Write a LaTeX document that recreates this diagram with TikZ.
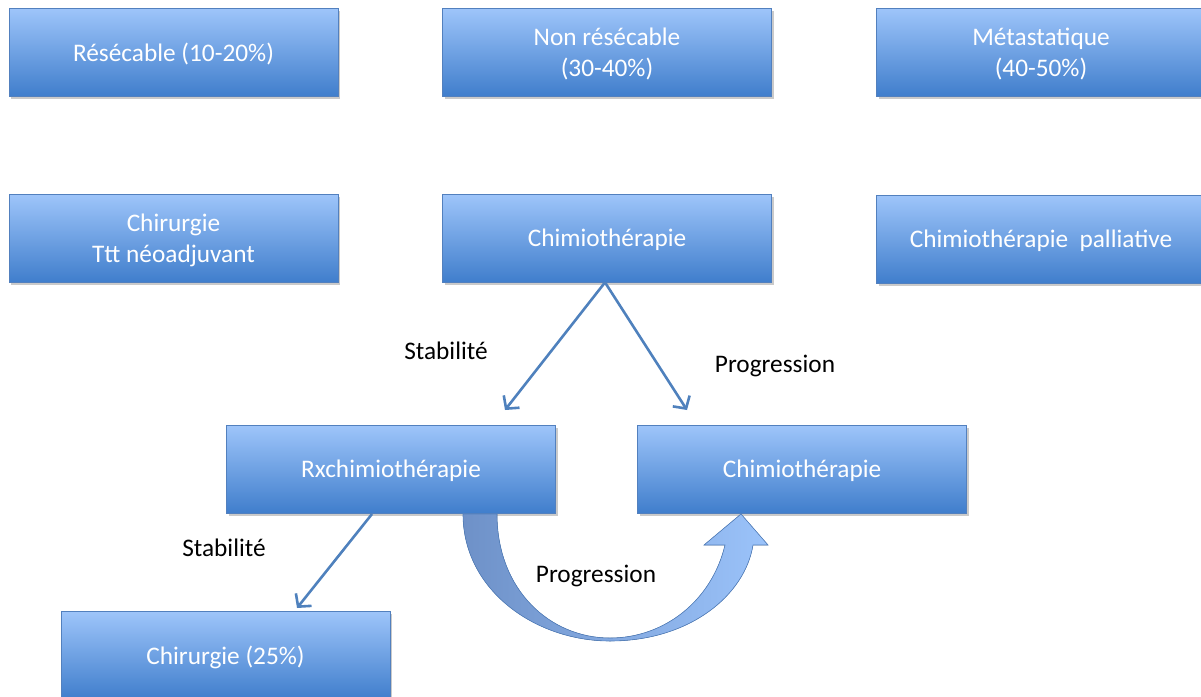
\documentclass[tikz,border=0pt]{standalone}
\usepackage{fontspec}
\setmainfont{Carlito}
\usetikzlibrary{arrows.meta,shadows}
\definecolor{boxtop}{RGB}{158,197,250}
\definecolor{boxbot}{RGB}{64,126,204}
\definecolor{boxedge}{RGB}{82,128,190}
\definecolor{arrowc}{RGB}{79,129,189}
\tikzset{
  box/.style={rectangle, draw=boxedge, line width=0.8pt, top color=boxtop, bottom color=boxbot,
    minimum width=329pt, minimum height=88pt, text=white, align=center,
    font=\fontsize{25.3}{31}\selectfont, text depth=0pt,
    drop shadow={shadow xshift=2pt, shadow yshift=-3pt, opacity=0.35, fill=black!60}},
  lbl/.style={text=black, font=\fontsize{25.3}{31}\selectfont},
  conn/.style={draw=arrowc, line width=2.6pt, -{Straight Barb[length=9pt,width=20pt]}},
}
\begin{document}
\begin{tikzpicture}[x=1pt,y=-1pt]
\useasboundingbox (0,0) rectangle (1201,696);
\clip (0,0) rectangle (1201,696);
\node[box] (res) at (173.5,52) {Résécable (10-20\%)};
\node[box] (nonres) at (607,52) {Non résécable\\(30-40\%)};
\node[box] (meta) at (1041,52) {Métastatique\\(40-50\%)};
\node[box] (chir) at (173.5,238) {Chirurgie\\Ttt néoadjuvant};
\node[box] (chimio) at (607,238) {Chimiothérapie};
\node[box] (pall) at (1041,239) {Chimiothérapie\ \ palliative};
\node[box] (rx) at (391,469) {Rxchimiothérapie};
\node[box] (chimio2) at (802,469) {Chimiothérapie};
\node[box] (chir25) at (225.5,655) {Chirurgie (25\%)};
% curved arrow
\fill[left color={rgb,255:red,110;green,145;blue,200}, middle color={rgb,255:red,58;green,108;blue,180}, right color={rgb,255:red,155;green,195;blue,250}, shading angle=90,
  draw=boxedge, line width=0.6pt]
  (463,514) .. controls (463,590) and (535,641) .. (610,641)
  .. controls (690,641) and (745,595) .. (753,545)
  -- (768,545) -- (741,514) -- (704,545) -- (725,545)
  .. controls (712,600) and (665,638) .. (610,638)
  .. controls (550,638) and (497,590) .. (497,514) -- cycle;
\coordinate (a1) at (505,410);
\coordinate (a2) at (687,410);
\coordinate (s3) at (372,514);
\coordinate (a3) at (297,608);
\draw[conn] ([xshift=-2pt]chimio.south) -- (a1);
\draw[conn] ([xshift=-2pt]chimio.south) -- (a2);
\draw[conn] (s3) -- (a3);
\node[lbl] (l1) at (446,351) {Stabilité};
\node[lbl] (l2) at (775,366) {Progression};
\node[lbl] (l3) at (224,548) {Stabilité};
\node[lbl] (l4) at (596,576) {Progression};
\end{tikzpicture}
\end{document}
